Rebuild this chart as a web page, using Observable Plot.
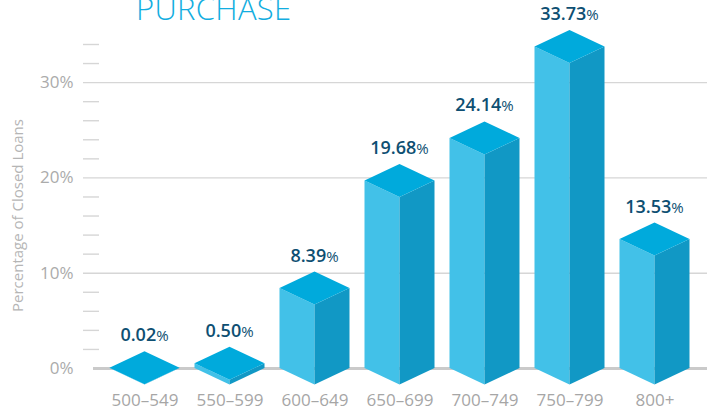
<!DOCTYPE html>
<html><head><meta charset="utf-8">
<script src="https://cdn.jsdelivr.net/npm/d3@7"></script>
<script src="https://cdn.jsdelivr.net/npm/@observablehq/plot@0.6"></script>
<style>
body{margin:0;background:#fff;}
#wrap{position:relative;width:707px;height:407px;overflow:hidden;font-family:"Open Sans",sans-serif;}
#title{position:absolute;left:136px;top:-13px;font-size:31px;font-weight:300;color:#12ade0;letter-spacing:0.3px;white-space:nowrap;}
#chart{position:absolute;left:0;top:0;}
</style></head>
<body><div id="wrap"><div id="chart"></div><div id="title">PURCHASE</div></div>
<script>
const categories = ["500–549","550–599","600–649","650–699","700–749","750–799","800+"];
const values = [0.02, 0.50, 8.39, 19.68, 24.14, 33.73, 13.53];
const yTicks = [0, 10, 20, 30];
const gridTicks = [10, 20, 30];
const minorTicks = [2,4,6,8,12,14,16,18,22,24,26,28,32,34];
const titleText = "PURCHASE";
const yLabel = "Percentage of Closed Loans";

const data = categories.map((c, i) => ({cat: c, value: values[i]}));

const TOP = "#00aadc", LEFT = "#42c1e8", RIGHT = "#1198c5", LABEL = "#0e4f72";
const HW = 35, DZ = 16.5;

function bw(x) { return typeof x.bandwidth === "function" ? x.bandwidth() : x.bandwidth; }

const prismRender = (index, scales) => {
  const g = d3.create("svg:g");
  const x = scales.x, y = scales.y, b = bw(x);
  const y0 = y(0);
  for (const i of index) {
    const d = data[i];
    const cx = x(d.cat) + b / 2;
    const yt = y(d.value);
    g.append("path").attr("fill", LEFT)
      .attr("d", `M${cx-HW},${yt}L${cx},${yt+DZ}L${cx},${y0+DZ}L${cx-HW},${y0}Z`);
    g.append("path").attr("fill", RIGHT)
      .attr("d", `M${cx},${yt+DZ}L${cx+HW},${yt}L${cx+HW},${y0}L${cx},${y0+DZ}Z`);
    g.append("path").attr("fill", TOP)
      .attr("d", `M${cx-HW},${yt}L${cx},${yt-DZ}L${cx+HW},${yt}L${cx},${yt+DZ}Z`);
  }
  return g.node();
};

const labelRender = (index, scales) => {
  const g = d3.create("svg:g");
  const x = scales.x, y = scales.y, b = bw(x);
  for (const i of index) {
    const d = data[i];
    const cx = x(d.cat) + b / 2;
    const t = g.append("text").attr("x", cx).attr("y", y(d.value) - DZ - 10)
      .attr("text-anchor", "middle").attr("fill", LABEL)
      .attr("font-family", "'Open Sans', sans-serif");
    t.append("tspan").attr("font-size", 18).attr("font-weight", 600).text(d.value.toFixed(2));
    t.append("tspan").attr("font-size", 15).attr("font-weight", 400).text("%");
  }
  return g.node();
};

const chart = Plot.plot({
  width: 707,
  height: 407,
  marginLeft: 100,
  marginRight: 8.5,
  marginTop: 44,
  marginBottom: 39,
  style: {fontFamily: "'Open Sans', sans-serif", background: "transparent", overflow: "visible"},
  x: {domain: categories, padding: 0, axis: null},
  y: {domain: [0, 34], axis: null},
  marks: [
    Plot.ruleY(gridTicks, {stroke: "#d6d6d6", strokeWidth: 1.4, insetLeft: -17, insetRight: -8.5}),
    Plot.axisY(minorTicks, {tickSize: 16, tickFormat: () => "", stroke: "#d6d6d6", strokeWidth: 1.4, dx: -1, label: null}),
    Plot.ruleY([0], {stroke: "#cacaca", strokeWidth: 3, insetLeft: -7, insetRight: -8.5}),
    Plot.axisY(yTicks, {tickSize: 0, tickPadding: 27, tickFormat: d => d + "%", fontSize: 17, fill: "#ababab", label: null}),
    Plot.text([yLabel], {frameAnchor: "left", textAnchor: "middle", rotate: -90, dx: -82, dy: 9, fontSize: 15, fill: "#b5b5b5"}),
    Plot.axisX({tickSize: 0, tickPadding: 25, fontSize: 17, fill: "#a6a6a6", label: null}),
    Plot.barY(data, {x: "cat", y: "value", render: prismRender}),
    Plot.text(data, {x: "cat", y: "value", text: d => d.value.toFixed(2), render: labelRender})
  ]
});
document.getElementById("chart").appendChild(chart);
document.getElementById("title").textContent = titleText;
</script>
</body></html>
